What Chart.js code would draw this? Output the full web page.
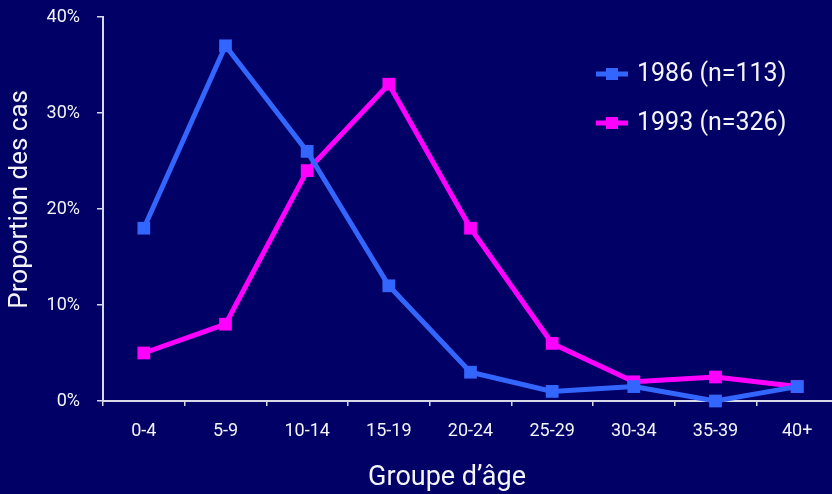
<!DOCTYPE html>
<html>
<head>
<meta charset="utf-8">
<script src="https://cdn.jsdelivr.net/npm/chart.js@4/dist/chart.umd.min.js"></script>
<style>
  html, body { margin: 0; padding: 0; background: #000066; overflow: hidden; }
  canvas { display: block; }
</style>
</head>
<body>
<canvas id="c" width="847" height="494"></canvas>
<script>
// Age groups and share of cases (%) per survey year
const ageGroups = ['0-4', '5-9', '10-14', '15-19', '20-24', '25-29', '30-34', '35-39', '40+'];
const cases1986 = [18, 37, 26, 12, 3, 1, 1.5, 0, 1.5];
const cases1993 = [5, 8, 24, 33, 18, 6, 2, 2.5, 1.5];
const seriesLabels = ['1986 (n=113)', '1993 (n=326)'];
const yTicks = [0, 10, 20, 30, 40];

const FONT = "Roboto, 'Noto Sans', sans-serif";
const TEXT = '#f4f4fa';
const AXIS = '#d8d8e8';
const BLUE = '#3366ff';
const MAGENTA = '#ff00ff';

// Legend drawn inside the plot, top right, as line + square marker
const insideLegend = {
  id: 'insideLegend',
  afterDraw(chart) {
    const ctx = chart.ctx;
    const x0 = 596, x1 = 628, tx = 637;
    const rows = [74, 123];
    ctx.save();
    chart.data.datasets.forEach((ds, i) => {
      const y = rows[i];
      ctx.strokeStyle = ds.borderColor;
      ctx.lineWidth = 5;
      ctx.beginPath();
      ctx.moveTo(x0, y);
      ctx.lineTo(x1, y);
      ctx.stroke();
      ctx.fillStyle = ds.pointBackgroundColor;
      ctx.fillRect((x0 + x1) / 2 - 6, y - 6, 12, 12);
      ctx.fillStyle = TEXT;
      ctx.font = '25px ' + FONT;
      ctx.textAlign = 'left';
      ctx.textBaseline = 'middle';
      ctx.fillText(ds.label, tx, y + 1);
    });
    ctx.restore();
  }
};

new Chart(document.getElementById('c'), {
  type: 'line',
  data: {
    labels: ageGroups,
    datasets: [
      {
        label: seriesLabels[0],
        data: cases1986,
        borderColor: BLUE,
        backgroundColor: BLUE,
        pointBackgroundColor: BLUE,
        pointBorderColor: BLUE,
        borderWidth: 5,
        pointStyle: 'rect',
        pointRadius: 9,
        pointBorderWidth: 0,
        tension: 0
      },
      {
        label: seriesLabels[1],
        data: cases1993,
        borderColor: MAGENTA,
        backgroundColor: MAGENTA,
        pointBackgroundColor: MAGENTA,
        pointBorderColor: MAGENTA,
        borderWidth: 5,
        pointStyle: 'rect',
        pointRadius: 9,
        pointBorderWidth: 0,
        tension: 0
      }
    ]
  },
  options: {
    responsive: false,
    animation: false,
    devicePixelRatio: 1,
    clip: false,
    layout: { padding: { top: 17, right: 2, left: 0, bottom: 0 } },
    plugins: {
      legend: { display: false },
      tooltip: { enabled: false }
    },
    scales: {
      x: {
        offset: true,
        grid: {
          offset: true,
          drawOnChartArea: false,
          drawTicks: true,
          tickLength: 5,
          color: AXIS,
          lineWidth: 1.5
        },
        border: { display: true, color: AXIS, width: 2 },
        ticks: {
          color: TEXT,
          font: { family: FONT, size: 18 },
          padding: 15,
          maxRotation: 0,
          autoSkip: false
        },
        title: {
          display: true,
          text: 'Groupe d\u2019âge' + '\u00a0'.repeat(7),
          color: TEXT,
          font: { family: FONT, size: 27 },
          padding: { bottom: 0 }
        },
        afterFit(scale) {
          scale.height = 93;
          scale.paddingLeft = 0;
          scale.paddingRight = 0;
        }
      },
      y: {
        min: 0,
        max: 40,
        afterBuildTicks(scale) { scale.ticks = yTicks.map(v => ({ value: v })); },
        grid: {
          drawOnChartArea: false,
          drawTicks: true,
          tickLength: 6,
          color: AXIS,
          lineWidth: 1.5
        },
        border: { display: true, color: AXIS, width: 2 },
        ticks: {
          color: TEXT,
          font: { family: FONT, size: 18 },
          padding: 17,
          callback: v => v + '%'
        },
        title: {
          display: true,
          text: '\u00a0'.repeat(3) + 'Proportion des cas',
          color: TEXT,
          font: { family: FONT, size: 26 },
          padding: { top: 5 }
        },
        afterFit(scale) {
          scale.width = 103;
          scale.paddingTop = 0;
          scale.paddingBottom = 0;
        }
      }
    }
  },
  plugins: [insideLegend]
});
</script>
</body>
</html>
